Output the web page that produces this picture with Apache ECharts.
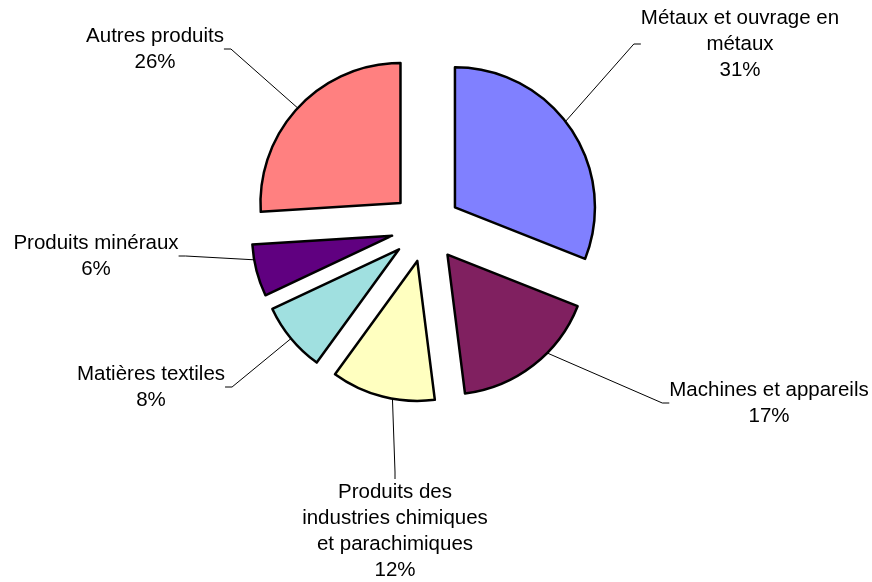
<!DOCTYPE html>
<html>
<head>
<meta charset="utf-8">
<script src="https://cdn.jsdelivr.net/npm/echarts@6/dist/echarts.min.js"></script>
<style>
    html, body { margin: 0; padding: 0; background: #fff; }
    #main { width: 872px; height: 582px; }
</style>
</head>
<body>
<div id="main"></div>
<script>
    // données
    var categories = [
        'Métaux et ouvrage en\nmétaux',
        'Machines et appareils',
        'Produits des\nindustries chimiques\net parachimiques',
        'Matières textiles',
        'Produits minéraux',
        'Autres produits'
    ];
    var values = [31, 17, 12, 8, 6, 26];
    var colors = ['#8080ff', '#802060', '#ffffc0', '#a0e0e0', '#600080', '#ff8080'];

    // position des étiquettes (centre du bloc de texte)
    var labelSpots = [
        [740, 44],
        [769, 403],
        [395, 531],
        [151, 387],
        [96, 256],
        [155, 49]
    ];

    var pieData = [];
    var labelData = [];
    for (var i = 0; i < categories.length; i++) {
        pieData.push({
            name: categories[i],
            value: values[i],
            selected: true,
            itemStyle: { color: colors[i] }
        });
        labelData.push({
            name: categories[i],
            value: values[i]
        });
    }

    var myChart = echarts.init(document.getElementById('main'));
    var option = {
        backgroundColor: '#ffffff',
        animation: false,
        series: [{
            // secteurs écartés
            type: 'pie',
            z: 3,
            center: [426, 227],
            radius: 140,
            startAngle: 90,
            clockwise: true,
            selectedMode: 'multiple',
            selectedOffset: 35,
            data: pieData,
            silent: true,
            itemStyle: {
                borderColor: '#000',
                borderWidth: 2.5
            },
            emphasis: { disabled: true },
            label: { show: false },
            labelLine: { show: false }
        }, {
            // étiquettes (secteurs invisibles, sous les autres)
            type: 'pie',
            z: 1,
            center: [426, 227],
            radius: 140,
            startAngle: 90,
            clockwise: true,
            data: labelData,
            silent: true,
            itemStyle: {
                color: 'rgba(0,0,0,0)',
                borderWidth: 0
            },
            emphasis: { disabled: true },
            label: {
                show: true,
                position: 'outside',
                formatter: '{b}\n{d}%',
                fontFamily: 'Liberation Sans, Arial, sans-serif',
                fontSize: 20.5,
                lineHeight: 26,
                color: '#000'
            },
            labelLine: {
                show: true,
                length: 20,
                length2: 7,
                lineStyle: {
                    color: '#000',
                    width: 1
                }
            },
            labelLayout: function(params) {
                var p = labelSpots[params.dataIndex];
                return {
                    x: p[0],
                    y: p[1],
                    align: 'center',
                    verticalAlign: 'middle'
                };
            }
        }]
    };
    myChart.setOption(option);
</script>
</body>
</html>
